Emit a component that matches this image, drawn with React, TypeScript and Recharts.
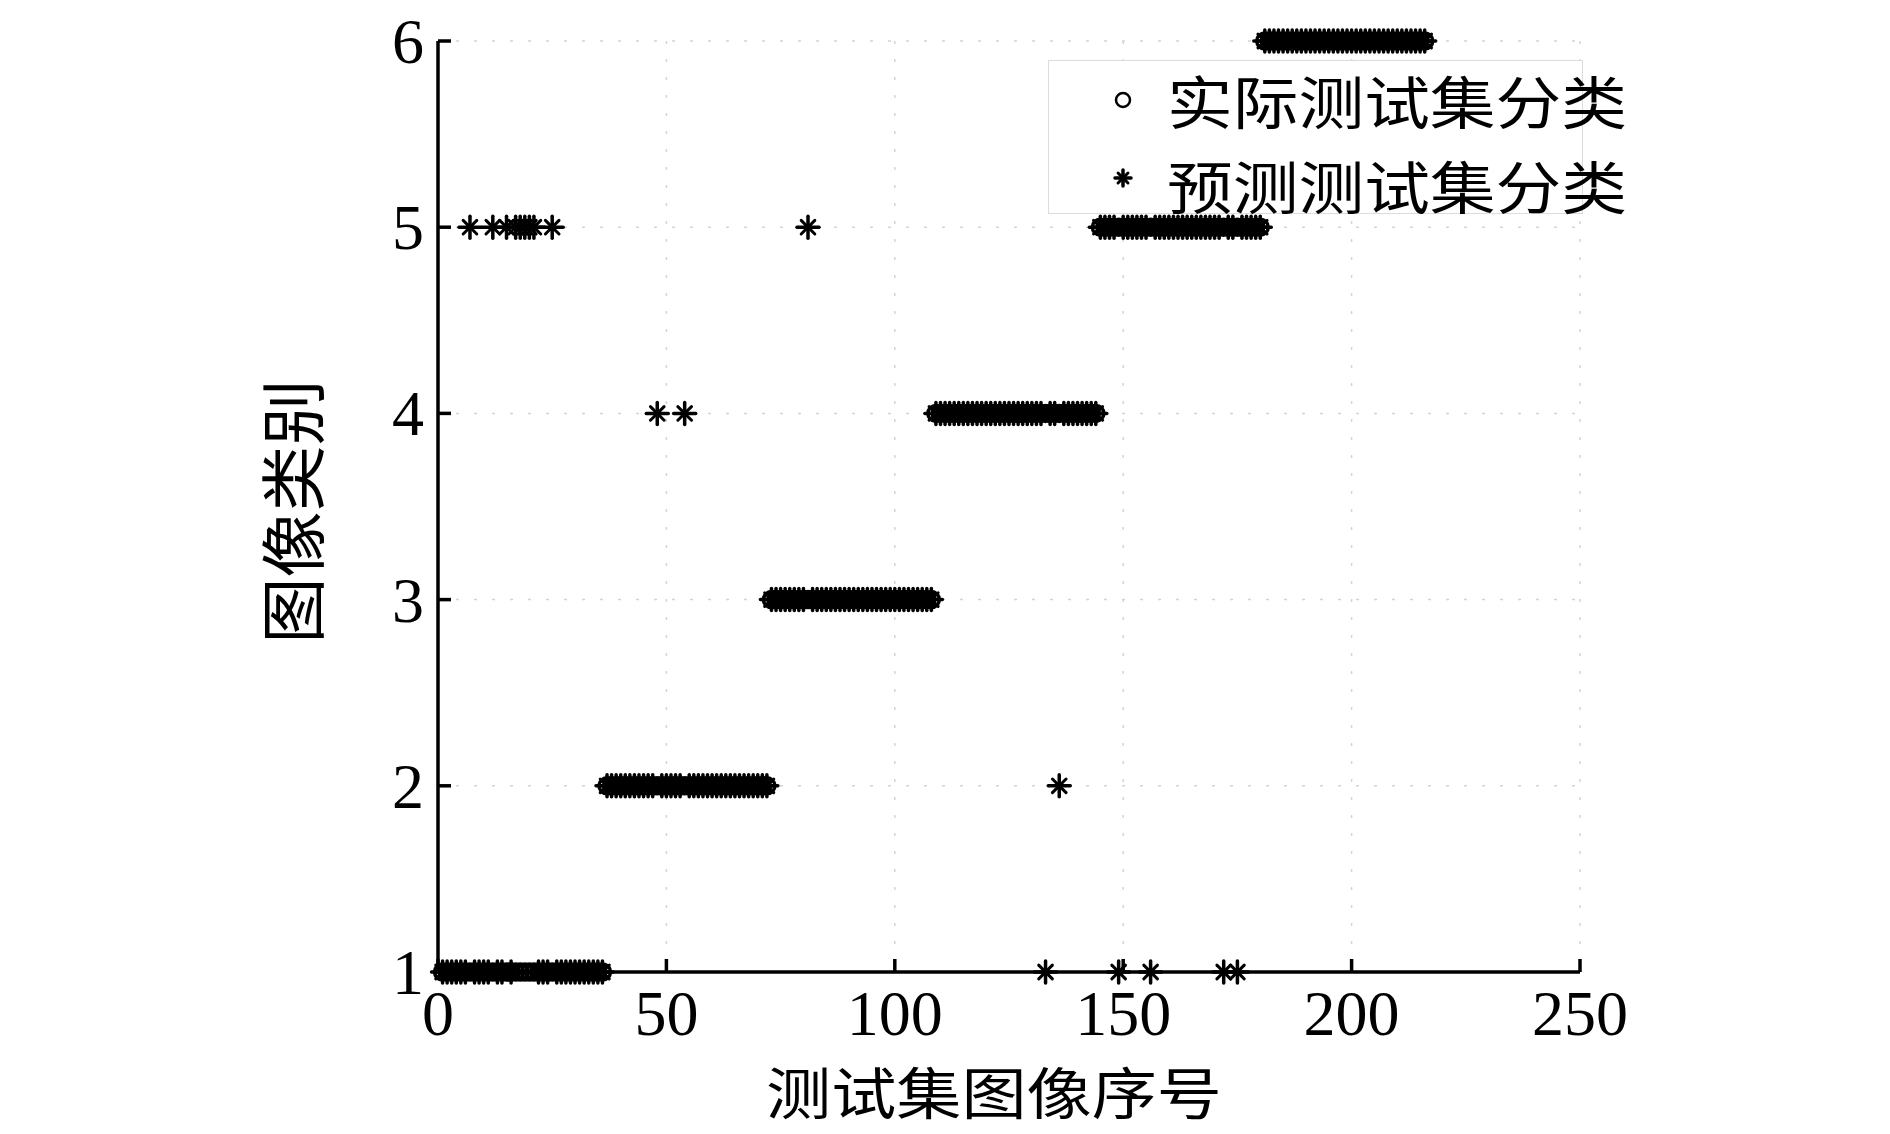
import React from 'react';
import { ScatterChart, Scatter, XAxis, YAxis, CartesianGrid, Legend } from 'recharts';

const xTicks = [0, 50, 100, 150, 200, 250];
const yTicks = [1, 2, 3, 4, 5, 6];

// class of every test image, in image order (1..216)
const actualClass = [
    1, 1, 1, 1, 1, 1, 1, 1, 1, 1, 1, 1, 1, 1, 1, 1, 1, 1, 1, 1, 1, 1, 1, 1, 1, 1, 1, 1, 1, 1, 1, 1, 1, 1, 1, 1,
    2, 2, 2, 2, 2, 2, 2, 2, 2, 2, 2, 2, 2, 2, 2, 2, 2, 2, 2, 2, 2, 2, 2, 2, 2, 2, 2, 2, 2, 2, 2, 2, 2, 2, 2, 2,
    3, 3, 3, 3, 3, 3, 3, 3, 3, 3, 3, 3, 3, 3, 3, 3, 3, 3, 3, 3, 3, 3, 3, 3, 3, 3, 3, 3, 3, 3, 3, 3, 3, 3, 3, 3,
    4, 4, 4, 4, 4, 4, 4, 4, 4, 4, 4, 4, 4, 4, 4, 4, 4, 4, 4, 4, 4, 4, 4, 4, 4, 4, 4, 4, 4, 4, 4, 4, 4, 4, 4, 4,
    5, 5, 5, 5, 5, 5, 5, 5, 5, 5, 5, 5, 5, 5, 5, 5, 5, 5, 5, 5, 5, 5, 5, 5, 5, 5, 5, 5, 5, 5, 5, 5, 5, 5, 5, 5,
    6, 6, 6, 6, 6, 6, 6, 6, 6, 6, 6, 6, 6, 6, 6, 6, 6, 6, 6, 6, 6, 6, 6, 6, 6, 6, 6, 6, 6, 6, 6, 6, 6, 6, 6, 6,
];

const predictedClass = [
    1, 1, 1, 1, 1, 1, 5, 1, 1, 1, 1, 5, 1, 1, 5, 1, 5, 5, 5, 5, 5, 1, 1, 1, 5, 1, 1, 1, 1, 1, 1, 1, 1, 1, 1, 1,
    2, 2, 2, 2, 2, 2, 2, 2, 2, 2, 2, 4, 2, 2, 2, 2, 2, 4, 2, 2, 2, 2, 2, 2, 2, 2, 2, 2, 2, 2, 2, 2, 2, 2, 2, 2,
    3, 3, 3, 3, 3, 3, 3, 3, 5, 3, 3, 3, 3, 3, 3, 3, 3, 3, 3, 3, 3, 3, 3, 3, 3, 3, 3, 3, 3, 3, 3, 3, 3, 3, 3, 3,
    4, 4, 4, 4, 4, 4, 4, 4, 4, 4, 4, 4, 4, 4, 4, 4, 4, 4, 4, 4, 4, 4, 4, 4, 1, 4, 4, 2, 4, 4, 4, 4, 4, 4, 4, 4,
    5, 5, 5, 5, 1, 5, 5, 5, 5, 5, 5, 1, 5, 5, 5, 5, 5, 5, 5, 5, 5, 5, 5, 5, 5, 5, 5, 1, 5, 5, 1, 5, 5, 5, 5, 5,
    6, 6, 6, 6, 6, 6, 6, 6, 6, 6, 6, 6, 6, 6, 6, 6, 6, 6, 6, 6, 6, 6, 6, 6, 6, 6, 6, 6, 6, 6, 6, 6, 6, 6, 6, 6,
];

const actualPoints = actualClass.map((c, i) => ({ idx: i + 1, cls: c }));
const predictedPoints = predictedClass.map((c, i) => ({ idx: i + 1, cls: c }));

const CJK = '"Noto Sans CJK SC", "Noto Sans", sans-serif';
const NUM = '"Liberation Serif", "Times New Roman", serif';

function CircleMark(props: any) {
    const { cx, cy, r = 8, w = 3.5 } = props;
    return <circle cx={cx} cy={cy} r={r} fill="none" stroke="#000" strokeWidth={w} />;
}

function StarMark(props: any) {
    const { cx, cy, s = 11 } = props;
    const d = s * 0.62;
    return (
        <g stroke="#000" strokeLinecap="round">
            <line x1={cx - s} y1={cy} x2={cx + s} y2={cy} strokeWidth={3.5} />
            <line x1={cx} y1={cy - s} x2={cx} y2={cy + s} strokeWidth={3.5} />
            <line x1={cx - d} y1={cy - d} x2={cx + d} y2={cy + d} strokeWidth={3} />
            <line x1={cx - d} y1={cy + d} x2={cx + d} y2={cy - d} strokeWidth={3} />
        </g>
    );
}

function XTick(props: any) {
    const { x, y, payload } = props;
    return (
        <g>
            <line x1={x} y1={y} x2={x} y2={y - 13} stroke="#000" strokeWidth={3.5} />
            <text x={x} y={y + 63} textAnchor="middle" fontFamily={NUM} fontSize={64} fill="#000">
                {payload.value}
            </text>
        </g>
    );
}

function YTick(props: any) {
    const { x, y, payload } = props;
    return (
        <g>
            <line x1={x} y1={y} x2={x + 13} y2={y} stroke="#000" strokeWidth={3.5} />
            <text x={x - 14} y={y + 22} textAnchor="end" fontFamily={NUM} fontSize={64} fill="#000">
                {payload.value}
            </text>
        </g>
    );
}

const renderXLabel = (props: any) => {
    const { x, y, width } = props.viewBox;
    return (
        <text x={x + width / 2 - 15} y={y + 142} textAnchor="middle"
            fontFamily={CJK} fontSize={56} textLength={456} lengthAdjust="spacingAndGlyphs" fill="#000">
            测试集图像序号
        </text>
    );
};

const renderYLabel = (props: any) => {
    const { x, y, height } = props.viewBox;
    const lx = x - 29;
    const ly = y + height / 2 + 5;
    return (
        <text x={lx} y={ly} transform={`rotate(-90 ${lx} ${ly})`} textAnchor="middle" dominantBaseline="central"
            fontFamily={CJK} fontSize={66} fill="#000">
            图像类别
        </text>
    );
};

// legend box drawn by hand, text runs a bit past the frame like the original
function ClassLegend() {
    const rows = [
        { label: '实际测试集分类', mark: 'circle' },
        { label: '预测测试集分类', mark: 'star' },
    ];
    return (
        <svg width={600} height={156} style={{ overflow: 'visible' }}>
            <rect x={0.5} y={0.5} width={534} height={153} fill="#fff" stroke="#dcdcdc" strokeWidth={1} />
            {rows.map((r, i) => {
                const cy = 39 + i * 85;
                return (
                    <g key={r.label}>
                        {r.mark === 'circle'
                            ? <CircleMark cx={75} cy={cy + 1} r={7} w={2.5} />
                            : <StarMark cx={75} cy={cy - 6} s={8} />}
                        <text x={119} y={cy} dominantBaseline="central" fontFamily={CJK} fontSize={57}
                            textLength={460} lengthAdjust="spacingAndGlyphs" fill="#000">
                            {r.label}
                        </text>
                    </g>
                );
            })}
        </svg>
    );
}

export default function App() {
    return (
        <div style={{ position: 'absolute', left: 0, top: 0, width: 1890, height: 1134, background: '#fff' }}>
            <ScatterChart width={1890} height={1134} margin={{ top: 41, right: 310, bottom: 72, left: 318 }}>
                <CartesianGrid stroke="#d4d4d4" strokeDasharray="3 15" strokeWidth={1.5} />
                <XAxis
                    type="number"
                    dataKey="idx"
                    domain={[0, 250]}
                    ticks={xTicks}
                    interval={0}
                    height={90}
                    tickSize={0}
                    tickMargin={0}
                    tickLine={false}
                    axisLine={{ stroke: '#000', strokeWidth: 3.5 }}
                    tick={<XTick />}
                    label={renderXLabel}
                />
                <YAxis
                    type="number"
                    dataKey="cls"
                    domain={[1, 6]}
                    ticks={yTicks}
                    interval={0}
                    width={120}
                    tickSize={0}
                    tickMargin={0}
                    tickLine={false}
                    axisLine={{ stroke: '#000', strokeWidth: 3.5 }}
                    tick={<YTick />}
                    label={renderYLabel}
                />
                <Legend
                    layout="horizontal"
                    verticalAlign="middle"
                    align="center"
                    content={() => <ClassLegend />}
                    wrapperStyle={{ left: 1048, top: 60, width: 600, height: 156 }}
                />
                <Scatter name="实际测试集分类" data={actualPoints} shape={<CircleMark />} isAnimationActive={false} />
                <Scatter name="预测测试集分类" data={predictedPoints} shape={<StarMark />} isAnimationActive={false} />
            </ScatterChart>
        </div>
    );
}
